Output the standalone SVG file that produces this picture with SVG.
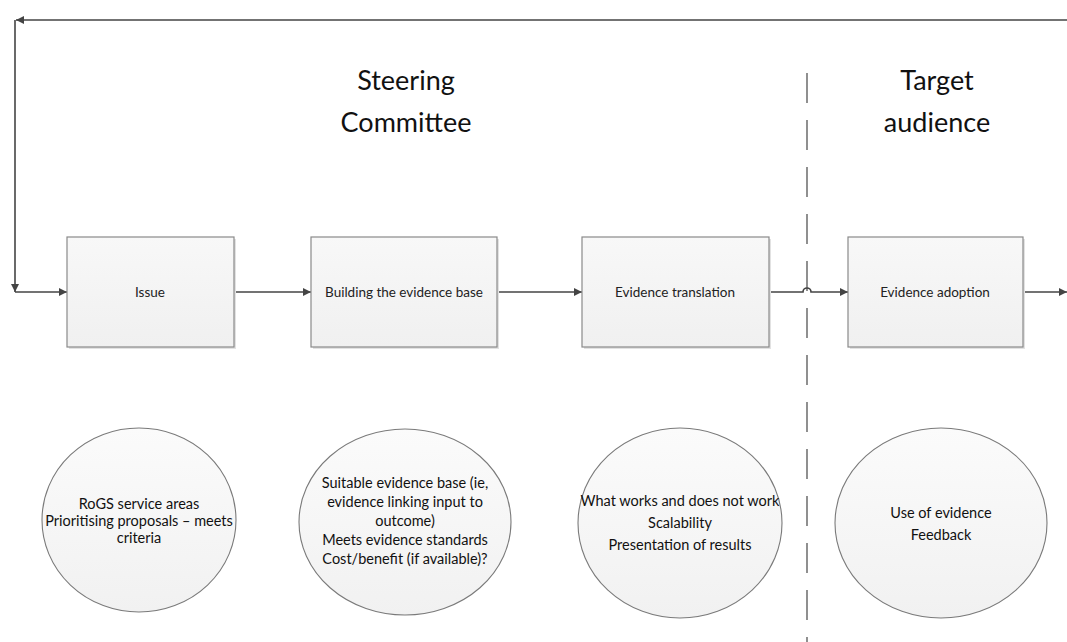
<svg xmlns="http://www.w3.org/2000/svg" width="1067" height="642" viewBox="0 0 1067 642">
<style>
.title{font-family:Lato,"Open Sans","Liberation Sans",sans-serif;font-size:27px;fill:#111;text-anchor:middle}
.lbl{font-family:Lato,"Open Sans","Liberation Sans",sans-serif;font-size:13.5px;fill:#222;text-anchor:middle}
.ctext{font-family:Lato,"Open Sans","Liberation Sans",sans-serif;font-size:14.5px;fill:#111;text-anchor:middle}
.box{fill:url(#bg);stroke:#8a8a8a;stroke-width:1.2}
.shadow{fill:#e2e2e2}
.circ{fill:url(#cg);stroke:#7a7a7a;stroke-width:1.1}
.conn{fill:none;stroke:#444;stroke-width:1.6}
.dash{fill:none;stroke:#555;stroke-width:1.3;stroke-dasharray:30 17}
</style>
<defs>
<linearGradient id="bg" x1="0" y1="0" x2="0" y2="1">
<stop offset="0" stop-color="#f8f8f8"/>
<stop offset="1" stop-color="#f0f0f0"/>
</linearGradient>
<linearGradient id="cg" x1="0" y1="0" x2="0" y2="1">
<stop offset="0" stop-color="#fbfbfb"/>
<stop offset="1" stop-color="#f1f1f1"/>
</linearGradient>
<marker id="arr" viewBox="0 0 10 10" refX="10" refY="5" markerWidth="9" markerHeight="8" markerUnits="userSpaceOnUse" orient="auto">
<path d="M0,0 L10,5 L0,10 z" fill="#444"/>
</marker>
</defs>

<g id="titles">
<text class="title" x="406" y="90">Steering</text>
<text class="title" x="406" y="132">Committee</text>
<text class="title" x="937" y="90">Target</text>
<text class="title" x="937" y="132">audience</text>
</g>

<g id="divider">
<line class="dash" x1="807" y1="73" x2="807" y2="642"/>
</g>

<g id="connectors">
<path class="conn" d="M1067,20 H16" marker-end="url(#arr)"/>
<path class="conn" d="M15,20 V292" marker-end="url(#arr)"/>
<path class="conn" d="M15,292 H67" marker-end="url(#arr)"/>
<path class="conn" d="M234,292 H311" marker-end="url(#arr)"/>
<path class="conn" d="M497,292 H582" marker-end="url(#arr)"/>
<path class="conn" d="M769,292 H803 A4,4 0 0 1 811,292 H848" marker-end="url(#arr)"/>
<path class="conn" d="M1023,292 H1067" marker-end="url(#arr)"/>
</g>

<g id="node-issue">
<rect class="shadow" x="69" y="239" width="167" height="110"/>
<rect class="box" x="67" y="237" width="167" height="110"/>
<text class="lbl" x="150" y="297">Issue</text>
</g>
<g id="node-building">
<rect class="shadow" x="313" y="239" width="186" height="110"/>
<rect class="box" x="311" y="237" width="186" height="110"/>
<text class="lbl" x="404" y="297">Building the evidence base</text>
</g>
<g id="node-translation">
<rect class="shadow" x="584" y="239" width="187" height="110"/>
<rect class="box" x="582" y="237" width="187" height="110"/>
<text class="lbl" x="675" y="297">Evidence translation</text>
</g>
<g id="node-adoption">
<rect class="shadow" x="850" y="239" width="175" height="110"/>
<rect class="box" x="848" y="237" width="175" height="110"/>
<text class="lbl" x="935" y="297">Evidence adoption</text>
</g>

<g id="circle-issue">
<ellipse class="circ" cx="139" cy="520" rx="97" ry="92"/>
<text class="ctext" x="139" y="509">RoGS service areas</text>
<text class="ctext" x="139" y="526">Prioritising proposals – meets</text>
<text class="ctext" x="139" y="543">criteria</text>
</g>
<g id="circle-building">
<ellipse class="circ" cx="405" cy="522" rx="106" ry="93"/>
<text class="ctext" x="405" y="488">Suitable evidence base (ie,</text>
<text class="ctext" x="405" y="507">evidence linking input to</text>
<text class="ctext" x="405" y="526">outcome)</text>
<text class="ctext" x="405" y="545">Meets evidence standards</text>
<text class="ctext" x="405" y="564">Cost/benefit (if available)?</text>
</g>
<g id="circle-translation">
<ellipse class="circ" cx="680" cy="523" rx="102" ry="95"/>
<text class="ctext" x="680" y="506">What works and does not work</text>
<text class="ctext" x="680" y="528">Scalability</text>
<text class="ctext" x="680" y="550">Presentation of results</text>
</g>
<g id="circle-adoption">
<ellipse class="circ" cx="941" cy="523" rx="106" ry="95"/>
<text class="ctext" x="941" y="518">Use of evidence</text>
<text class="ctext" x="941" y="540">Feedback</text>
</g>
</svg>
